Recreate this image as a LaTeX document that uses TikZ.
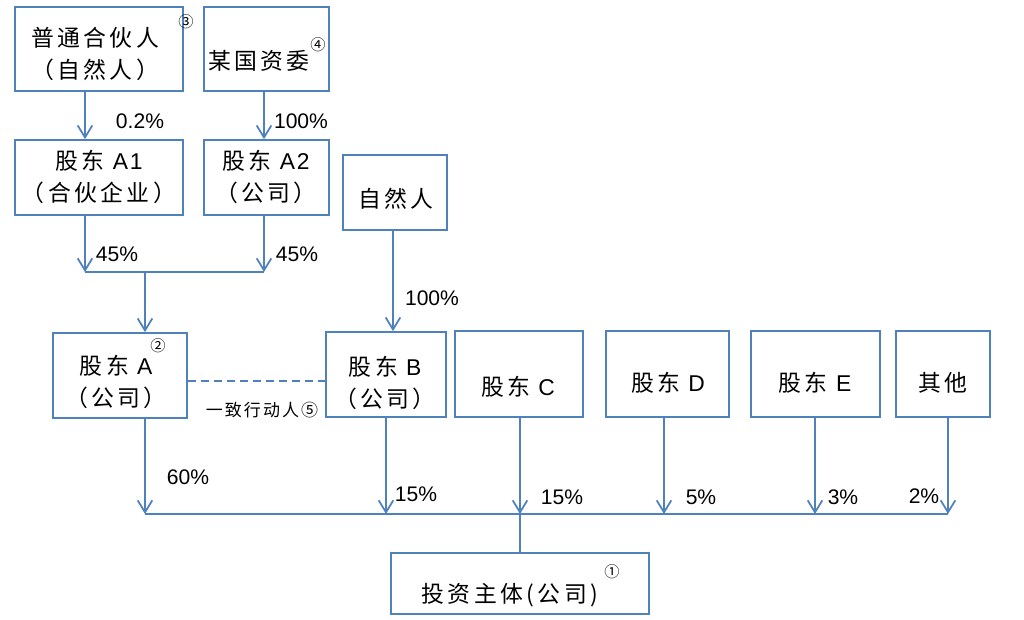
\documentclass[tikz,border=0pt]{standalone}
\usepackage{fontspec}
\setmainfont{Liberation Sans}
\newfontfamily\lat[LetterSpace=8]{Liberation Sans}
\newfontfamily\cjk[LetterSpace=15]{Noto Sans CJK SC}
\newfontfamily\cjks[LetterSpace=12]{Noto Sans CJK SC}
\newfontfamily\cjkn{Noto Sans CJK SC}
\usetikzlibrary{arrows.meta}
\definecolor{lineblue}{HTML}{4F81BD}
\begin{document}
\begin{tikzpicture}[x=0.03cm,y=-0.03cm,
  box/.style={draw=lineblue, line width=1.5pt, inner sep=0pt},
  txt/.style={font=\lat\fontsize{19.5}{28}\selectfont, align=center, inner sep=0pt},
  pct/.style={font=\fontsize{18}{22}\selectfont, inner sep=0pt},
  num/.style={font=\cjkn\fontsize{13}{15}\selectfont, inner sep=0pt},
  small/.style={font=\cjks\fontsize{14.5}{16}\selectfont, inner sep=0pt},
  conn/.style={draw=lineblue, line width=1.5pt},
  arr/.style={conn, -{Straight Barb[length=0.36cm,width=0.44cm,line width=1.5pt]}},
  dash line/.style={conn, dash pattern=on 6.8pt off 4.3pt}
]
\useasboundingbox (0,0) rectangle (1024,620);

% boxes
\node[box, minimum width=168*0.03cm, minimum height=84*0.03cm] (gp) at (99,49) {};
\node[box, minimum width=125*0.03cm, minimum height=84*0.03cm] (sa) at (266.5,49) {};
\node[box, minimum width=168*0.03cm, minimum height=75*0.03cm] (a1) at (99,177.5) {};
\node[box, minimum width=125*0.03cm, minimum height=75*0.03cm] (a2) at (266.5,177.5) {};
\node[box, minimum width=104*0.03cm, minimum height=75*0.03cm] (np) at (395,192.5) {};
\node[box, minimum width=134*0.03cm, minimum height=85*0.03cm] (sa0) at (120,375.5) {};
\node[box, minimum width=120*0.03cm, minimum height=85*0.03cm] (sb) at (386,374.5) {};
\node[box, minimum width=128*0.03cm, minimum height=86*0.03cm] (sc) at (519,374) {};
\node[box, minimum width=123*0.03cm, minimum height=86*0.03cm] (sd) at (667.5,374) {};
\node[box, minimum width=129*0.03cm, minimum height=86*0.03cm] (se) at (815.5,374) {};
\node[box, minimum width=94*0.03cm, minimum height=86*0.03cm] (so) at (943,374) {};
\node[box, minimum width=258*0.03cm, minimum height=61*0.03cm] (inv) at (520,583.5) {};

% box texts
\node[txt] (gpt) at (95,54) {\cjk 普通合伙人\\\cjk （自然人）};
\node[num] (n3) at (186,22) {③};
\node[txt] (sat) at (259,61) {\cjk 某国资委};
\node[num] (n4) at (318,45) {④};
\node[txt] (a1t) at (99,177) {{\cjk 股东} A1\\\cjk （合伙企业）};
\node[txt] (a2t) at (266,177) {{\cjk 股东} A2\\\cjk （公司）};
\node[txt] (npt) at (396,199) {\cjk 自然人};
\node[txt] (sat0) at (116,382) {{\cjk 股东} A\\\cjk （公司）};
\node[num] (n2) at (158,346) {②};
\node[txt] (sbt) at (385,383) {{\cjk 股东} B\\\cjk （公司）};
\node[txt] (sct) at (518,387) {{\cjk 股东} C};
\node[txt] (sdt) at (668,383) {{\cjk 股东} D};
\node[txt] (set) at (815,383) {{\cjk 股东} E};
\node[txt] (sot) at (943,383) {\cjk 其他};
\node[txt] (invt) at (510,595) {\cjk 投资主体(公司)};
\node[num] (n1) at (612,572) {①};
\node[small] (yz) at (262,410) {一致行动人⑤};

% helper coordinates
\coordinate (xgp) at (85,0);
\coordinate (xa2) at (264,0);
\coordinate (xa) at (145,0);
\coordinate (xnp) at (393,0);
\coordinate (xb) at (386,0);
\coordinate (xc) at (520,0);
\coordinate (xd) at (664,0);
\coordinate (xe) at (815,0);
\coordinate (xo) at (948,0);
\coordinate (j1) at (85,272);
\coordinate (j2) at (264,272);
\coordinate (j3) at (145,272);
\coordinate (dy) at (0,381);
\coordinate (ba) at (145,514);
\coordinate (bb) at (386,514);
\coordinate (bc) at (520,514);
\coordinate (bd) at (664,514);
\coordinate (be) at (815,514);
\coordinate (bo) at (948,514);

% connectors top
\draw[arr] (gp.south -| xgp) -- (a1.north -| xgp);
\draw[arr] (sa.south -| xa2) -- (a2.north -| xa2);
\draw[arr] (a1.south -| xgp) -- (j1);
\draw[arr] (a2.south -| xa2) -- (j2);
\draw[conn] (j1) -- (j2);
\draw[arr] (j3) -- (sa0.north -| xa);
\draw[arr] (np.south -| xnp) -- (sb.north -| xnp);
\draw[dash line] (sa0.east |- dy) -- (sb.west |- dy);

% connectors bottom
\draw[arr] (sa0.south -| xa) -- (ba);
\draw[arr] (sb.south -| xb) -- (bb);
\draw[arr] (sc.south -| xc) -- (bc);
\draw[arr] (sd.south -| xd) -- (bd);
\draw[arr] (se.south -| xe) -- (be);
\draw[arr] (so.south -| xo) -- (bo);
\draw[conn] (ba) -- (bo);
\draw[conn] (bc) -- (inv.north -| xc);

% percentages
\node[pct] (p1) at (140,121) {0.2\%};
\node[pct] (p2) at (301,121) {100\%};
\node[pct] (p3) at (117,254) {45\%};
\node[pct] (p4) at (297,254) {45\%};
\node[pct] (p5) at (432,298) {100\%};
\node[pct] (p6) at (188,477) {60\%};
\node[pct] (p7) at (416,494) {15\%};
\node[pct] (p8) at (562,497) {15\%};
\node[pct] (p9) at (701,497) {5\%};
\node[pct] (p10) at (843,497) {3\%};
\node[pct] (p11) at (924,496) {2\%};
\end{tikzpicture}
\end{document}
